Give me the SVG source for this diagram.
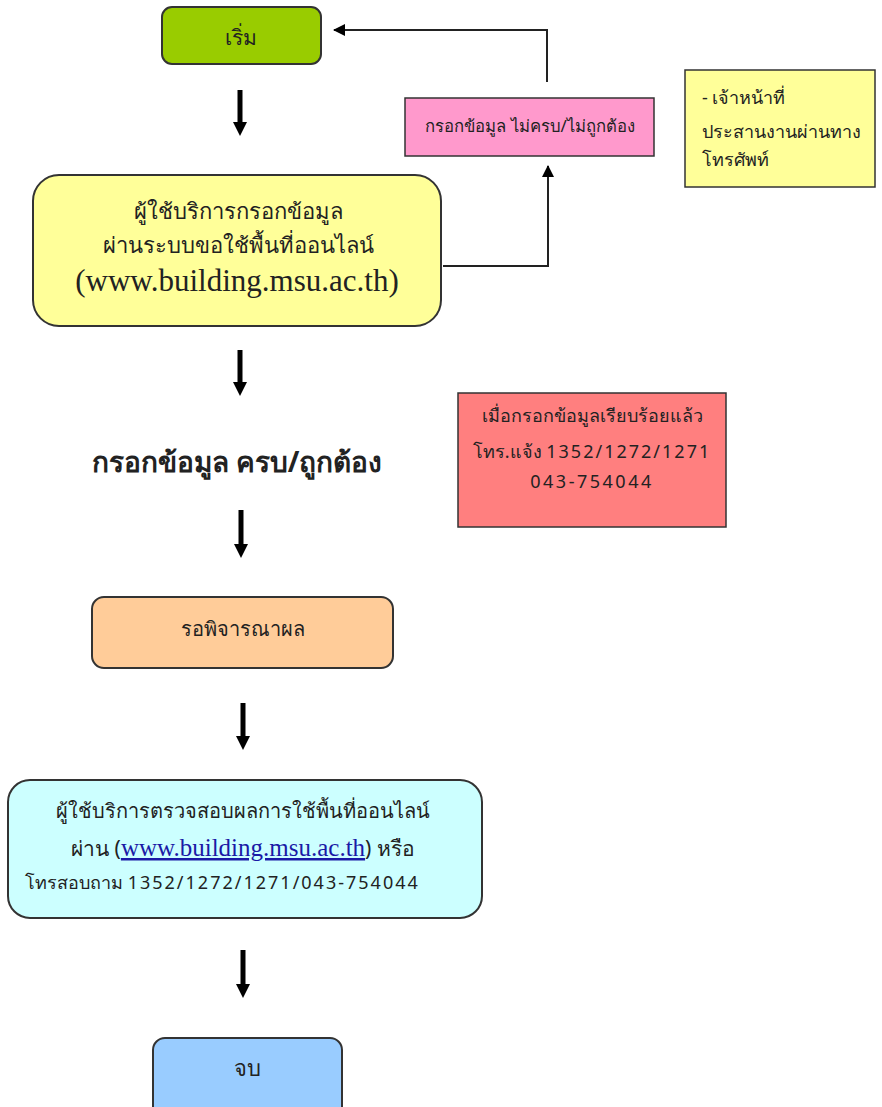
<svg xmlns="http://www.w3.org/2000/svg" width="882" height="1107" viewBox="0 0 882 1107">
<defs>
<marker id="ah" markerWidth="12" markerHeight="12" refX="11" refY="6" orient="auto" markerUnits="userSpaceOnUse">
<path d="M0,0 L12,6 L0,12 z" fill="#000"/>
</marker>
<marker id="bh" markerWidth="14" markerHeight="14" refX="2" refY="7" orient="auto" markerUnits="userSpaceOnUse">
<path d="M0,0 L14,7 L0,14 z" fill="#000"/>
</marker>
<style>
.box{stroke:#333;stroke-width:2}
.t{font-family:"Noto Sans","DejaVu Sans",sans-serif;fill:#222;text-anchor:middle}
.tl{font-family:"Noto Sans","DejaVu Sans",sans-serif;fill:#222}
.serif{font-family:"Liberation Serif",serif}
.conn{stroke:#222;stroke-width:2;fill:none}
.big{stroke:#000;stroke-width:5;fill:none}
</style>
</defs>
<rect width="882" height="1107" fill="#fff"/>

<g id="connectors">
<path class="conn" d="M443,266 H548 V166" marker-end="url(#ah)"/>
<path class="conn" d="M547,82 V30 H334" marker-end="url(#ah)"/>
<path class="big" d="M240,90 V124" marker-end="url(#bh)"/>
<path class="big" d="M240,350 V384" marker-end="url(#bh)"/>
<path class="big" d="M241,510 V546" marker-end="url(#bh)"/>
<path class="big" d="M243,703 V738" marker-end="url(#bh)"/>
<path class="big" d="M243,950 V986" marker-end="url(#bh)"/>
</g>

<g id="start">
<rect class="box" x="162" y="7" width="159" height="57" rx="10" fill="#99cc00"/>
<text class="t" x="241" y="45" font-size="21">เริ่ม</text>
</g>

<g id="fill-form">
<rect class="box" x="33" y="175" width="408" height="151" rx="26" fill="#ffff99"/>
<text class="t" x="238" y="219" font-size="22">ผู้ใช้บริการกรอกข้อมูล</text>
<text class="t" x="238" y="253" font-size="22">ผ่านระบบขอใช้พื้นที่ออนไลน์</text>
<text class="t serif" x="237" y="291" font-size="31">(www.building.msu.ac.th)</text>
</g>

<g id="incomplete">
<rect x="405" y="98" width="249" height="58" fill="#ff99cc" stroke="#333" stroke-width="1.5"/>
<text class="t" x="530" y="132" font-size="16.7">กรอกข้อมูล ไม่ครบ/ไม่ถูกต้อง</text>
</g>

<g id="note">
<rect x="685" y="70" width="190" height="117" fill="#ffff99" stroke="#333" stroke-width="1.5"/>
<text class="tl" x="702" y="104" font-size="18">- เจ้าหน้าที่</text>
<text class="tl" x="702" y="138" font-size="18">ประสานงานผ่านทาง</text>
<text class="tl" x="702" y="166" font-size="18">โทรศัพท์</text>
</g>

<g id="complete-label">
<text class="t" x="237" y="472" font-size="28" font-weight="bold">กรอกข้อมูล ครบ/ถูกต้อง</text>
</g>

<g id="phone-note">
<rect x="458" y="393" width="268" height="134" fill="#ff7f7f" stroke="#333" stroke-width="1.5"/>
<text class="t" x="592" y="422" font-size="18">เมื่อกรอกข้อมูลเรียบร้อยแล้ว</text>
<text class="t" x="592" y="458" font-size="18">โทร.แจ้ง <tspan letter-spacing="2">1352/1272/1271</tspan></text>
<text class="t" x="592" y="488" font-size="18" letter-spacing="2.5">043-754044</text>
</g>

<g id="wait">
<rect class="box" x="92" y="597" width="301" height="71" rx="12" fill="#ffcc99"/>
<text class="t" x="243" y="636" font-size="20">รอพิจารณาผล</text>
</g>

<g id="check">
<rect class="box" x="8" y="780" width="474" height="138" rx="22" fill="#ccffff"/>
<text class="t" x="243" y="818" font-size="20">ผู้ใช้บริการตรวจสอบผลการใช้พื้นที่ออนไลน์</text>
<text class="t" x="243" y="856" font-size="21">ผ่าน (<tspan class="serif" font-size="25" fill="#1a1aa6" text-decoration="underline">www.building.msu.ac.th</tspan>) หรือ</text>
<text class="tl" x="25" y="889" font-size="18">โทรสอบถาม <tspan letter-spacing="2">1352/1272/1271/043-754044</tspan></text>
</g>

<g id="end">
<rect class="box" x="153" y="1038" width="189" height="80" rx="12" fill="#99ccff"/>
<text class="t" x="247" y="1076" font-size="22">จบ</text>
</g>
</svg>
